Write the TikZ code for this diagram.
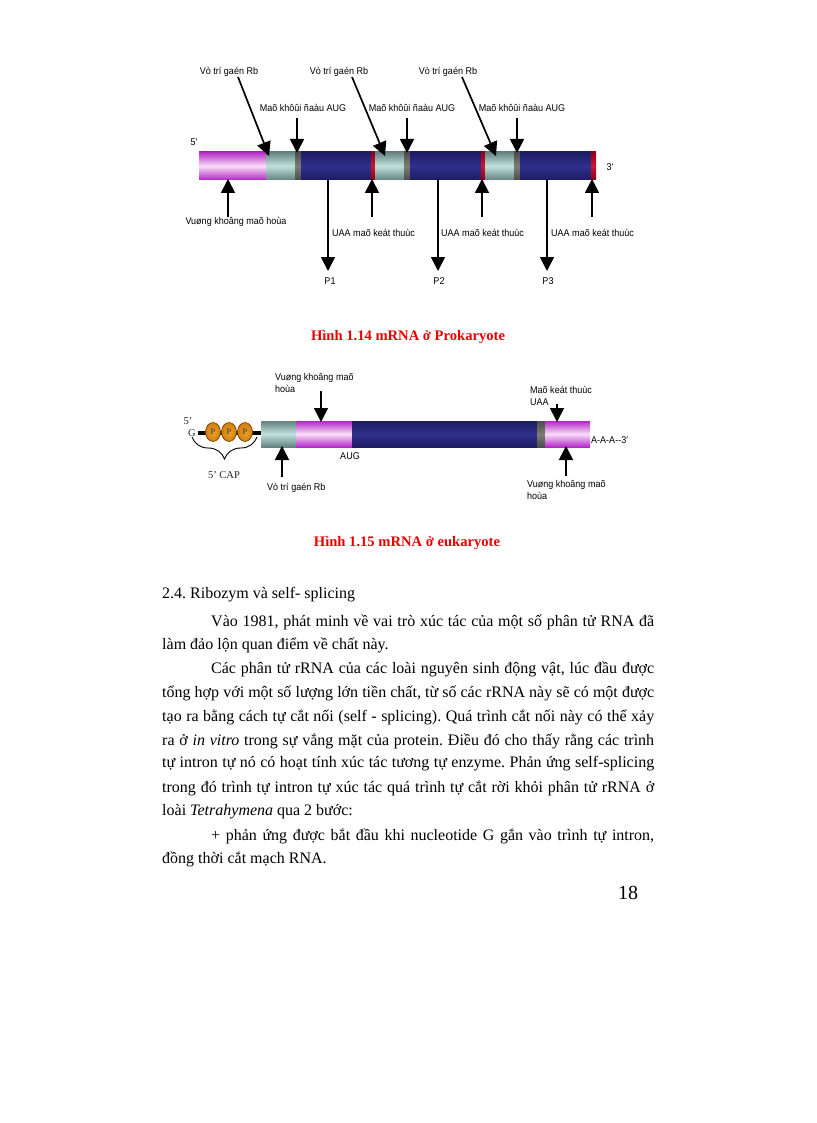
\documentclass[tikz,border=0pt]{standalone}
\usepackage{fontspec}
\setmainfont{Liberation Serif}
\newfontfamily\labfont[FakeStretch=0.92]{Liberation Sans}
\usetikzlibrary{arrows.meta,decorations.pathreplacing,shapes.geometric}
\definecolor{purp}{RGB}{178,40,200}
\definecolor{purpl}{RGB}{250,222,248}
\definecolor{teala}{RGB}{100,130,128}
\definecolor{tealb}{RGB}{192,226,220}
\definecolor{navya}{RGB}{28,28,100}
\definecolor{navyb}{RGB}{48,48,140}
\definecolor{reda}{RGB}{140,0,25}
\definecolor{redb}{RGB}{205,20,50}
\definecolor{graya}{RGB}{75,75,75}
\definecolor{grayb}{RGB}{125,125,118}
\definecolor{capred}{RGB}{235,0,0}
\definecolor{orngl}{RGB}{240,165,45}
\definecolor{orngm}{RGB}{205,125,15}
\definecolor{orngd}{RGB}{110,55,0}
\tikzset{
 pseg/.style={top color=purp, bottom color=purp, middle color=purpl},
 tseg/.style={top color=teala, bottom color=teala, middle color=tealb},
 nseg/.style={top color=navya, bottom color=navya, middle color=navyb},
 rseg/.style={top color=reda, bottom color=reda, middle color=redb},
 gseg/.style={top color=graya, bottom color=graya, middle color=grayb},
 arr/.style={line width=1.7pt, -{Triangle[width=14pt,length=14pt]}},
 lab/.style={font=\labfont\fontsize{9.8}{11.8}\selectfont, inner sep=0pt, text=black},
 serlab/.style={font=\fontsize{10.5}{12}\selectfont, inner sep=0pt, text=black!85},
 body/.style={font=\frenchspacing\fontsize{16}{19}\selectfont, inner sep=0pt, anchor=west},
 figcap/.style={font=\bfseries\fontsize{14.6}{17}\selectfont, text=capred, inner sep=0pt},
 pball/.style={ellipse, minimum width=15pt, minimum height=19pt, inner sep=0pt,
   inner color=orngl, outer color=orngm, draw=orngd, line width=0.6pt,
   font=\fontsize{8.5}{9}\selectfont, text=black!85},
}
\begin{document}
\begin{tikzpicture}[x=1pt,y=-1pt]
\useasboundingbox[fill=white] (0,0) rectangle (816,1123);

% ---------------- Figure 1.14 : prokaryote ----------------
\shade[pseg] (199,152) rectangle (266,180);
\shade[tseg] (266,152) rectangle (295,180);
\shade[gseg] (295,152) rectangle (301,180);
\shade[nseg] (301,152) rectangle (371,180);
\shade[rseg] (371,152) rectangle (375,180);
\shade[tseg] (375,152) rectangle (404,180);
\shade[gseg] (404,152) rectangle (410,180);
\shade[nseg] (410,152) rectangle (481,180);
\shade[rseg] (481,152) rectangle (485,180);
\shade[tseg] (485,152) rectangle (514,180);
\shade[gseg] (514,152) rectangle (520,180);
\shade[nseg] (520,152) rectangle (591,180);
\shade[rseg] (591,152) rectangle (596,180);

\node[lab] (five) at (194,142) {5'};
\node[lab] (three) at (610,167) {3'};

\node[lab] (rb1) at (229,72) {Vò trí gaén Rb};
\node[lab] (rb2) at (339,72) {Vò trí gaén Rb};
\node[lab] (rb3) at (448,72) {Vò trí gaén Rb};
\coordinate (rb1s) at (238,77); \coordinate (rb1t) at (269,156);
\coordinate (rb2s) at (352,77); \coordinate (rb2t) at (385,156);
\coordinate (rb3s) at (462,77); \coordinate (rb3t) at (496,156);
\draw[arr] (rb1s) -- (rb1t);
\draw[arr] (rb2s) -- (rb2t);
\draw[arr] (rb3s) -- (rb3t);

\node[lab] (aug1) at (303,108) {Maõ khôûi ñaàu AUG};
\node[lab] (aug2) at (412,108) {Maõ khôûi ñaàu AUG};
\node[lab] (aug3) at (522,108) {Maõ khôûi ñaàu AUG};
\coordinate (aug1s) at (297,118); \coordinate (aug1t) at (297,153);
\coordinate (aug2s) at (407,118); \coordinate (aug2t) at (407,153);
\coordinate (aug3s) at (517,118); \coordinate (aug3t) at (517,153);
\draw[arr] (aug1s) -- (aug1t);
\draw[arr] (aug2s) -- (aug2t);
\draw[arr] (aug3s) -- (aug3t);

% up arrows below
\coordinate (u0s) at (228,217); \coordinate (u0t) at (228,179);
\coordinate (u1s) at (372,217); \coordinate (u1t) at (372,179);
\coordinate (u2s) at (482,217); \coordinate (u2t) at (482,179);
\coordinate (u3s) at (592,217); \coordinate (u3t) at (592,179);
\draw[arr] (u0s) -- (u0t);
\draw[arr] (u1s) -- (u1t);
\draw[arr] (u2s) -- (u2t);
\draw[arr] (u3s) -- (u3t);
\node[lab] (ncr) at (236,222) {Vuøng khoâng maõ hoùa};

% down arrows to proteins
\node[lab] (p1) at (330,281) {P1};
\node[lab] (p2) at (439,281) {P2};
\node[lab] (p3) at (548,281) {P3};
\coordinate (d1s) at (328,180); \coordinate (d1t) at (328,271);
\coordinate (d2s) at (438,180); \coordinate (d2t) at (438,271);
\coordinate (d3s) at (547,180); \coordinate (d3t) at (547,271);
\draw[arr] (d1s) -- (d1t);
\draw[arr] (d2s) -- (d2t);
\draw[arr] (d3s) -- (d3t);
\node[lab, anchor=west] (uaa1) at (332,233) {UAA maõ keát thuùc};
\node[lab, anchor=west] (uaa2) at (441,233) {UAA maõ keát thuùc};
\node[lab, anchor=west] (uaa3) at (551,233) {UAA maõ keát thuùc};

\node[figcap] (cap1) at (408,337) {Hình 1.14 mRNA ở Prokaryote};

% ---------------- Figure 1.15 : eukaryote ----------------
\coordinate (gend) at (198,433);
\coordinate (cend) at (263,433);
\draw[line width=4.5pt] (gend) -- (cend);
\node[pball] (pa) at (213,432) {P};
\node[pball] (pb) at (229,432) {P};
\node[pball] (pc) at (245,432) {P};
\node[serlab] (e5) at (188,421) {5'};
\node[serlab] (eg) at (192,433) {G};
\coordinate (brL) at (192,437);
\coordinate (brR) at (257,437);
\draw[line width=0.9pt, decorate, decoration={brace, mirror, amplitude=22pt}] (brL) -- (brR);
\node[serlab] (capl) at (224,475) {5' CAP};

\shade[tseg] (261,421) rectangle (296,447);
\shade[pseg] (296,421) rectangle (352,447);
\shade[nseg] (352,421) rectangle (537,447);
\shade[gseg] (537,421) rectangle (545,447);
\shade[pseg] (545,421) rectangle (590,447);

\node[lab, anchor=west, align=left] (encr1) at (275,383) {Vuøng khoâng maõ\\hoùa};
\coordinate (ed1s) at (321,391); \coordinate (ed1t) at (321,422);
\draw[arr] (ed1s) -- (ed1t);

\coordinate (eu1s) at (282,477); \coordinate (eu1t) at (282,446);
\draw[arr] (eu1s) -- (eu1t);
\node[lab, anchor=west] (erb) at (267,488) {Vò trí gaén Rb};
\node[lab] (eaug) at (350,456) {AUG};

\node[lab, anchor=west, align=left] (estop) at (530,396) {Maõ keát thuùc\\UAA};
\coordinate (ed2s) at (557,404); \coordinate (ed2t) at (557,422);
\draw[arr] (ed2s) -- (ed2t);

\node[lab, anchor=west] (poly) at (591,440) {A-A-A--3'};
\coordinate (eu2s) at (566,476); \coordinate (eu2t) at (566,446);
\draw[arr] (eu2s) -- (eu2t);
\node[lab, anchor=west, align=left] (encr2) at (527,490) {Vuøng khoâng maõ\\hoùa};

\node[figcap] (cap2) at (407,543) {Hình 1.15 mRNA ở eukaryote};

% ---------------- body text ----------------
\node[body] (h) at (162,595) {2.4. Ribozym và self- splicing};
\node[body] (l1) at (211,622) {\makebox[443pt][s]{Vào 1981, phát minh về vai trò xúc tác của một số phân tử RNA đã}};
\node[body] (l2) at (162,645) {làm đảo lộn quan điểm về chất này.};
\node[body] (l3) at (211,669) {\makebox[443pt][s]{Các phân tử rRNA của các loài nguyên sinh động vật, lúc đầu được}};
\node[body] (l4) at (162,693) {\makebox[492pt][s]{tổng hợp với một số lượng lớn tiền chất, từ số các rRNA này sẽ có một được}};
\node[body] (l5) at (162,717) {\makebox[492pt][s]{tạo ra bằng cách tự cắt nối (self - splicing). Quá trình cắt nối này có thể xảy}};
\node[body] (l6) at (162,741) {\makebox[492pt][s]{ra ở \textit{in vitro} trong sự vắng mặt của protein. Điều đó cho thấy rằng các trình}};
\node[body] (l7) at (162,764) {\makebox[492pt][s]{tự intron tự nó có hoạt tính xúc tác tương tự enzyme. Phản ứng self-splicing}};
\node[body] (l8) at (162,788) {\makebox[492pt][s]{trong đó trình tự intron tự xúc tác quá trình tự cắt rời khỏi phân tử rRNA ở}};
\node[body] (l9) at (162,812) {loài \textit{Tetrahymena} qua 2 bước:};
\node[body] (l10) at (211,836) {\makebox[443pt][s]{+ phản ứng được bắt đầu khi nucleotide G gắn vào trình tự intron,}};
\node[body] (l11) at (162,859) {đồng thời cắt mạch RNA.};
\node[font=\fontsize{20}{22}\selectfont, inner sep=0pt] (pg) at (628,893) {18};
\end{tikzpicture}
\end{document}
